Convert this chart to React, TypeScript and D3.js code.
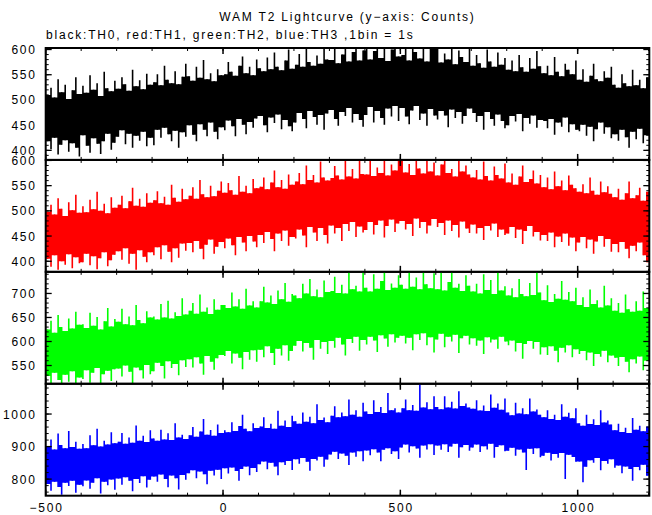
import React from "react";
import * as d3 from "d3";

const TITLE = "WAM T2 Lightcurve (y\u2212axis: Counts)";
const SUBTITLE = "black:TH0, red:TH1, green:TH2, blue:TH3 ,1bin = 1s";

// time bins (s): each value is the lowest / highest count read in a 10 s stretch
const BIN_START = -500;
const BIN_WIDTH = 10;
const X_DOMAIN: [number, number] = [-500, 1202];
const X_MAJOR = [-500, 0, 500, 1000];
const X_LABELS = ["\u2212500", "0", "500", "1000"];

const th0High = [
  510, 524, 505, 541, 515, 530, 502, 519, 545, 512,
  528, 514, 549, 520, 533, 508, 556, 523, 517, 538,
  522, 545, 531, 518, 560, 527, 539, 521, 552, 530,
  535, 551, 529, 568, 540, 533, 557, 531, 546, 572,
  547, 538, 566, 544, 579, 541, 553, 537, 561, 549,
  551, 575, 556, 548, 568, 586, 553, 566, 549, 580,
  563, 557, 584, 561, 594, 566, 559, 578, 600, 562,
  570, 591, 566, 606, 575, 568, 588, 572, 606, 580,
  579, 606, 573, 590, 606, 576, 595, 606, 578, 598,
  606, 580, 597, 606, 583, 606, 577, 600, 606, 586,
  589, 606, 578, 606, 595, 582, 606, 576, 603, 606,
  606, 574, 592, 580, 606, 571, 598, 585, 575, 606,
  568, 589, 573, 564, 600, 576, 566, 594, 570, 583,
  560, 578, 557, 589, 565, 556, 583, 562, 597, 567,
  553, 568, 549, 585, 556, 547, 572, 560, 551, 578,
  540, 561, 536, 548, 572, 541, 537, 557, 544, 566,
  530, 524, 551, 533, 527, 560, 529, 540, 523, 545,
];
const th0Low = [
  418, 402, 425, 392, 411, 420, 397, 414, 405, 388,
  430, 409, 395, 424, 413, 393, 418, 433, 401, 415,
  427, 440, 412, 433, 405, 429, 419, 437, 408, 425,
  410, 441, 425, 445, 432, 418, 439, 405, 436, 427,
  450, 431, 418, 452, 441, 428, 455, 437, 422, 446,
  440, 459, 448, 428, 462, 451, 432, 456, 445, 463,
  468, 450, 436, 465, 454, 471, 442, 460, 448, 438,
  455, 474, 462, 444, 478, 466, 451, 470, 441, 473,
  480, 462, 449, 476, 468, 484, 455, 472, 460, 447,
  470, 486, 455, 478, 464, 451, 483, 467, 488, 458,
  484, 467, 452, 479, 488, 460, 473, 449, 482, 469,
  461, 478, 469, 446, 481, 464, 476, 453, 468, 483,
  474, 456, 468, 441, 476, 462, 449, 471, 458, 444,
  450, 468, 457, 472, 438, 464, 453, 469, 445, 460,
  458, 444, 462, 431, 455, 447, 465, 436, 452, 441,
  438, 451, 429, 447, 418, 442, 455, 433, 446, 424,
  432, 419, 441, 426, 405, 437, 422, 443, 414, 430,
];

const th1High = [
  498, 512, 493, 525, 504, 490, 517, 501, 532, 496,
  509, 497, 522, 503, 538, 500, 514, 495, 527, 506,
  512, 530, 505, 519, 546, 510, 524, 508, 535, 516,
  521, 539, 515, 528, 512, 552, 526, 518, 544, 523,
  530, 547, 524, 561, 533, 527, 550, 529, 540, 558,
  536, 555, 541, 532, 569, 538, 550, 535, 563, 545,
  548, 566, 543, 556, 580, 547, 561, 544, 572, 552,
  558, 575, 553, 590, 561, 571, 556, 598, 566, 560,
  565, 589, 570, 562, 600, 568, 583, 564, 604, 573,
  572, 604, 569, 586, 575, 604, 570, 592, 580, 604,
  604, 576, 593, 571, 604, 584, 574, 600, 578, 596,
  570, 592, 604, 575, 583, 568, 604, 578, 590, 572,
  566, 581, 562, 598, 569, 560, 588, 571, 564, 594,
  556, 574, 552, 568, 590, 557, 563, 580, 554, 571,
  547, 566, 543, 578, 549, 560, 541, 570, 552, 545,
  538, 553, 535, 566, 540, 532, 558, 537, 549, 534,
  527, 544, 522, 535, 558, 525, 531, 546, 520, 538,
];
const th1Low = [
  405, 389, 412, 383, 400, 393, 414, 386, 408, 396,
  398, 415, 392, 410, 384, 406, 418, 390, 402, 413,
  420, 403, 426, 395, 415, 383, 422, 409, 398, 418,
  412, 428, 404, 432, 419, 398, 426, 407, 435, 421,
  436, 418, 440, 425, 404, 433, 443, 415, 429, 438,
  426, 445, 432, 412, 448, 437, 420, 450, 439, 428,
  452, 436, 458, 444, 420, 455, 440, 461, 431, 448,
  445, 463, 451, 428, 468, 457, 440, 466, 452, 435,
  471, 455, 466, 440, 474, 460, 478, 448, 469, 457,
  462, 478, 453, 472, 481, 447, 470, 483, 458, 475,
  480, 463, 474, 450, 485, 466, 478, 455, 471, 484,
  468, 476, 452, 481, 460, 472, 447, 479, 465, 456,
  473, 455, 466, 442, 470, 461, 475, 448, 463, 452,
  455, 468, 446, 463, 434, 460, 470, 449, 458, 441,
  452, 440, 457, 428, 449, 438, 455, 431, 447, 420,
  437, 448, 426, 443, 415, 439, 450, 429, 444, 419,
  434, 418, 438, 425, 406, 431, 420, 437, 412, 398,
];

const th2High = [
  625, 643, 618, 655, 630, 622, 648, 627, 662, 635,
  636, 628, 660, 633, 651, 625, 642, 670, 631, 647,
  641, 668, 636, 652, 634, 676, 645, 638, 663, 650,
  652, 646, 678, 650, 685, 648, 661, 653, 690, 656,
  664, 680, 658, 698, 662, 671, 657, 688, 666, 676,
  676, 670, 702, 673, 688, 668, 710, 675, 684, 671,
  684, 714, 681, 696, 678, 706, 688, 722, 683, 699,
  696, 690, 720, 700, 730, 694, 708, 692, 727, 703,
  705, 735, 701, 718, 700, 747, 709, 716, 704, 747,
  712, 704, 740, 710, 726, 747, 707, 721, 712, 738,
  718, 710, 747, 714, 733, 709, 747, 719, 711, 742,
  709, 744, 706, 724, 747, 712, 720, 705, 738, 716,
  704, 720, 700, 740, 707, 728, 699, 747, 706, 715,
  696, 711, 692, 730, 699, 694, 722, 697, 744, 702,
  686, 717, 682, 699, 689, 726, 687, 703, 684, 712,
  676, 692, 672, 708, 678, 686, 671, 716, 675, 690,
  664, 680, 660, 698, 667, 662, 684, 664, 704, 670,
];
const th2Low = [
  528, 512, 535, 520, 504, 531, 516, 538, 508, 525,
  522, 540, 514, 535, 545, 506, 532, 539, 518, 542,
  544, 527, 550, 537, 513, 546, 540, 523, 551, 532,
  538, 556, 549, 523, 559, 545, 553, 530, 561, 547,
  563, 546, 567, 554, 531, 570, 558, 541, 565, 572,
  570, 580, 554, 575, 566, 542, 578, 562, 582, 558,
  583, 567, 590, 576, 551, 585, 571, 592, 560, 580,
  591, 601, 579, 597, 587, 562, 603, 585, 599, 574,
  601, 587, 608, 594, 571, 605, 597, 610, 581, 603,
  594, 610, 602, 578, 613, 606, 589, 615, 598, 608,
  612, 596, 608, 582, 615, 603, 617, 592, 609, 577,
  604, 616, 588, 610, 600, 614, 576, 607, 612, 594,
  607, 591, 602, 574, 609, 598, 604, 585, 610, 600,
  592, 602, 579, 597, 564, 595, 601, 585, 599, 573,
  588, 572, 590, 581, 557, 587, 577, 592, 567, 584,
  574, 580, 561, 577, 549, 574, 568, 581, 557, 571,
  566, 549, 568, 558, 536, 563, 554, 569, 540, 560,
];

const th3High = [
  900, 922, 891, 940, 905, 895, 948, 899, 915, 893,
  908, 895, 935, 904, 955, 900, 918, 906, 944, 910,
  915, 942, 909, 928, 912, 965, 918, 933, 914, 950,
  925, 918, 952, 922, 941, 920, 972, 928, 936, 923,
  935, 960, 930, 946, 985, 936, 951, 933, 968, 942,
  950, 944, 975, 948, 963, 998, 955, 947, 972, 957,
  962, 990, 957, 970, 955, 1010, 964, 980, 960, 995,
  978, 970, 1005, 976, 992, 972, 1030, 982, 989, 975,
  995, 1024, 990, 1005, 993, 1045, 998, 1012, 992, 1035,
  1008, 1000, 1042, 1006, 1022, 1003, 1065, 1012, 1018, 1005,
  1018, 1045, 1012, 1028, 1010, 1095, 1020, 1036, 1015, 1055,
  1022, 1015, 1055, 1020, 1038, 1017, 1070, 1025, 1032, 1020,
  1016, 1042, 1011, 1026, 1009, 1060, 1019, 1032, 1013, 1048,
  1005, 996, 1035, 1002, 1018, 999, 1048, 1008, 1014, 998,
  990, 1012, 985, 998, 982, 1030, 992, 1004, 987, 1018,
  972, 964, 998, 969, 984, 966, 1012, 974, 980, 968,
  950, 970, 945, 958, 942, 988, 952, 964, 947, 962,
];
const th3Low = [
  785, 764, 792, 776, 752, 789, 779, 795, 758, 783,
  778, 796, 770, 789, 803, 756, 792, 781, 799, 767,
  802, 783, 806, 795, 763, 800, 788, 809, 774, 798,
  808, 792, 814, 800, 775, 811, 803, 768, 813, 798,
  818, 827, 803, 823, 815, 784, 826, 811, 829, 800,
  833, 817, 836, 825, 795, 831, 839, 812, 834, 822,
  846, 854, 830, 850, 839, 812, 852, 843, 856, 828,
  861, 847, 865, 853, 826, 862, 857, 869, 838, 860,
  876, 884, 862, 879, 872, 843, 882, 869, 886, 855,
  888, 873, 892, 882, 855, 890, 895, 877, 886, 862,
  897, 906, 882, 901, 894, 866, 903, 891, 907, 874,
  903, 890, 907, 883, 900, 909, 866, 898, 905, 887,
  897, 906, 883, 901, 891, 909, 866, 899, 904, 886,
  887, 896, 872, 891, 882, 828, 893, 877, 895, 867,
  872, 881, 857, 877, 866, 880, 800, 875, 868, 853,
  854, 790, 838, 858, 850, 865, 827, 856, 847, 861,
  835, 842, 818, 839, 831, 795, 837, 827, 844, 810,
];

const SERIES = [
  { hi: th0High, lo: th0Low, color: "#000000", domain: [381, 603], major: [400, 450, 500, 550, 600], minor: 10 },
  { hi: th1High, lo: th1Low, color: "#ff0000", domain: [379, 601], major: [400, 450, 500, 550, 600], minor: 10 },
  { hi: th2High, lo: th2Low, color: "#00ff00", domain: [512, 745], major: [550, 600, 650, 700], minor: 10 },
  { hi: th3High, lo: th3Low, color: "#0000ff", domain: [749, 1093], major: [800, 900, 1000], minor: 20 },
];

const W = 652;
const H = 515;
const LEFT = 45.7;
const RIGHT = 649.3;
const TOP = 48;
const BOTTOM = 495.7;
const FONT = "'Liberation Sans', Arial, Helvetica, sans-serif";
const FS = 12;
const LS = 1.8;

type Pt = { t: number; hi: number; lo: number };

export default function App() {
  const x = d3.scaleLinear().domain(X_DOMAIN).range([LEFT, RIGHT]);
  const ph = (BOTTOM - TOP) / SERIES.length;
  const xMinor = d3.range(-500, 1201, 100);

  return (
    <svg
      width={W}
      height={H}
      style={{ position: "fixed", left: 0, top: 0, background: "#fff" }}
      fontFamily={FONT}
    >
      <rect x={0} y={0} width={W} height={H} fill="#fff" />
      <text x={(LEFT + RIGHT) / 2} y={21} fontSize={FS} letterSpacing={LS} textAnchor="middle" fill="#000">
        {TITLE}
      </text>
      <text x={46} y={39} fontSize={FS} letterSpacing={LS} fill="#000">
        {SUBTITLE}
      </text>
      <defs>
        {SERIES.map((s, k) => (
          <clipPath id={`clip${k}`} key={k}>
            <rect x={LEFT} y={TOP + k * ph} width={RIGHT - LEFT} height={ph} />
          </clipPath>
        ))}
      </defs>
      {SERIES.map((s, k) => {
        const y0 = TOP + k * ph;
        const y1 = y0 + ph;
        const y = d3.scaleLinear().domain(s.domain).range([y1, y0]);
        const n = s.hi.length;
        // solid core: the part of the band two neighbouring bins share; spikes: each bin's full extent
        const core: Pt[] = s.hi.map((h, i) => {
          const b = Math.min(n - 1, i + 1);
          return {
            t: BIN_START + (i + 0.5) * BIN_WIDTH,
            hi: Math.min(s.hi[i], s.hi[b]),
            lo: Math.max(s.lo[i], s.lo[b]),
          };
        });
        core.unshift({ t: X_DOMAIN[0], hi: core[0].hi, lo: core[0].lo });
        core.push({ t: X_DOMAIN[1], hi: core[n - 1].hi, lo: core[n - 1].lo });
        const area = d3
          .area<Pt>()
          .x((d) => x(d.t))
          .y0((d) => y(d.lo))
          .y1((d) => y(d.hi))
          .curve(d3.curveStepAfter);
        const spikes = s.hi
          .map((h, i) => {
            const cx = x(BIN_START + (i + 0.5) * BIN_WIDTH);
            return `M${cx.toFixed(2)},${y(h).toFixed(2)}V${y(s.lo[i]).toFixed(2)}`;
          })
          .join("");
        const yMinor = d3.range(Math.ceil(s.domain[0] / s.minor) * s.minor, s.domain[1] + 0.001, s.minor);
        return (
          <g key={k}>
            <g clipPath={`url(#clip${k})`}>
              <path d={area(core) || ""} fill={s.color} stroke="none" />
              <path d={spikes} fill="none" stroke={s.color} strokeWidth={1.6} />
            </g>
            {yMinor.map((v) => (
              <g key={`ym${v}`} stroke="#000" strokeWidth={1}>
                <line x1={LEFT} x2={LEFT + 3} y1={y(v)} y2={y(v)} />
                <line x1={RIGHT} x2={RIGHT - 3} y1={y(v)} y2={y(v)} />
              </g>
            ))}
            {s.major.map((v) => (
              <g key={`yM${v}`}>
                <line x1={LEFT} x2={LEFT + 6} y1={y(v)} y2={y(v)} stroke="#000" strokeWidth={1.3} />
                <line x1={RIGHT} x2={RIGHT - 6} y1={y(v)} y2={y(v)} stroke="#000" strokeWidth={1.3} />
                <text x={35 + LS} y={y(v) + 4.5} fontSize={FS} letterSpacing={LS} textAnchor="end" fill="#000">
                  {v}
                </text>
              </g>
            ))}
            {xMinor.map((t) => (
              <g key={`xm${t}`} stroke="#000" strokeWidth={1}>
                <line x1={x(t)} x2={x(t)} y1={y0} y2={y0 + 3} />
                <line x1={x(t)} x2={x(t)} y1={y1} y2={y1 - 3} />
              </g>
            ))}
            {X_MAJOR.map((t) => (
              <g key={`xM${t}`} stroke="#000" strokeWidth={1.5}>
                <line x1={x(t)} x2={x(t)} y1={y0} y2={y0 + 6} />
                <line x1={x(t)} x2={x(t)} y1={y1} y2={y1 - 6} />
              </g>
            ))}
            <rect x={LEFT} y={y0} width={RIGHT - LEFT} height={ph} fill="none" stroke="#000" strokeWidth={2} />
          </g>
        );
      })}
      {X_MAJOR.map((t, i) => (
        <text key={t} x={x(t) + LS / 2} y={511.5} fontSize={FS} letterSpacing={LS} textAnchor="middle" fill="#000">
          {X_LABELS[i]}
        </text>
      ))}
    </svg>
  );
}
